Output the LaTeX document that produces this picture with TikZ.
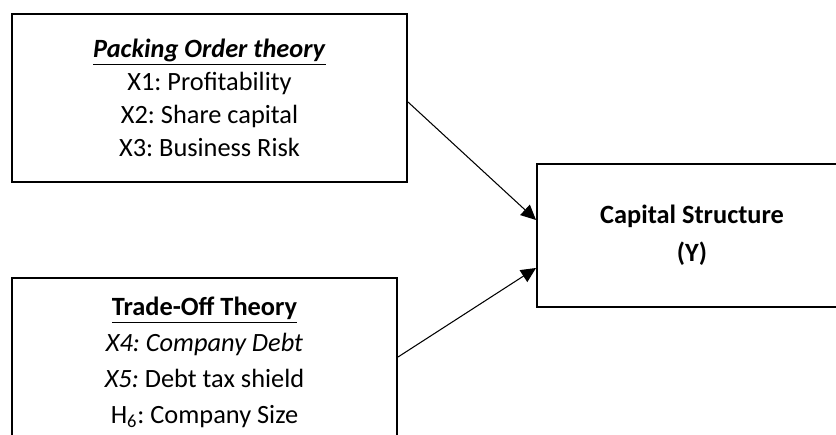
\documentclass[tikz,border=0pt]{standalone}
\usepackage{fontspec}
\setmainfont{Carlito}
\usetikzlibrary{arrows.meta}
\frenchspacing
\newcommand\tightskip{\lineskiplimit=-20pt\relax}

\tikzset{
  box/.style={draw, line width=1.1pt, align=center, inner sep=0pt},
  link/.style={line width=0.6pt, -{Triangle[length=0.3cm, width=0.28cm]}}
}

\begin{document}
\begin{tikzpicture}
        \useasboundingbox (0,0) rectangle (16.72,8.7);
        \clip (0,0) rectangle (16.72,8.7);

        \node[box, minimum width=7.9cm, minimum height=3.36cm,
              font={\fontsize{15}{18.8}\selectfont\tightskip}] (pot) at (4.19,6.74)
            {\underline{\textbf{\textit{Packing Order theory}}}\\
             X1: Profitability\\
             X2: Share capital\\
             X3: Business Risk};

        \node[box, minimum width=7.7cm, minimum height=3.38cm,
              font={\fontsize{15}{20.6}\selectfont\tightskip}] (tot) at (4.09,1.45)
            {\underline{\textbf{Trade-Off Theory}}\\
             \textit{X4: Company Debt}\\
             \textit{X5:} Debt tax shield\\
             H\textsubscript{6}: Company Size};

        \node[box, minimum width=6.2cm, minimum height=2.86cm,
              font=\fontsize{15}{21.5}\selectfont\bfseries] (cs) at (13.84,3.99)
            {Capital Structure\\ (Y)};

        \draw[link] ([yshift=-0.08cm]pot.east) -- ([yshift=0.31cm]cs.west);
        \draw[link] ([yshift=-1.6cm]tot.north east) -- ([yshift=-0.65cm]cs.west);
\end{tikzpicture}
\end{document}
